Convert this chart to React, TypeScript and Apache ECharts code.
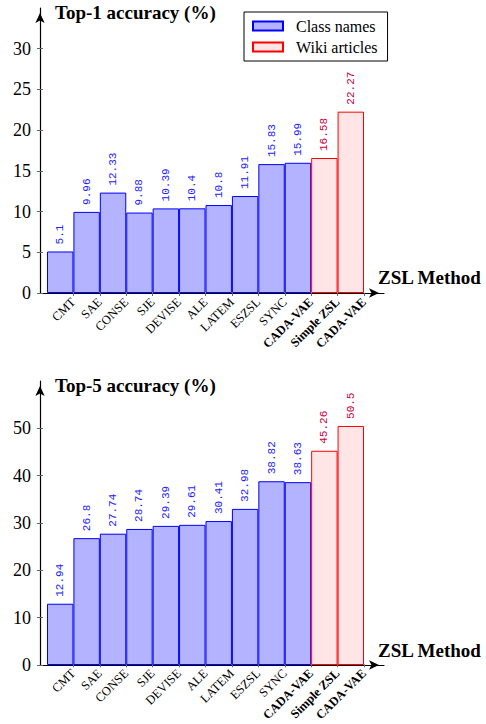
import React, { useEffect, useRef } from "react";
import * as echarts from "echarts";

const categories = ["CMT", "SAE", "CONSE", "SJE", "DEVISE", "ALE", "LATEM", "ESZSL", "SYNC", "CADA-VAE", "Simple ZSL", "CADA-VAE"];
const boldFrom = 9;

const top1Class = [5.1, 9.96, 12.33, 9.88, 10.39, 10.4, 10.8, 11.91, 15.83, 15.99, null, null];
const top1Wiki = [null, null, null, null, null, null, null, null, null, null, 16.58, 22.27];
const top5Class = [12.94, 26.8, 27.74, 28.74, 29.39, 29.61, 30.41, 32.98, 38.82, 38.63, null, null];
const top5Wiki = [null, null, null, null, null, null, null, null, null, null, 45.26, 50.5];

const top1Ticks = [0, 5, 10, 15, 20, 25, 30];
const top5Ticks = [0, 10, 20, 30, 40, 50];
const top1Max = 35;
const top5Max = 60;

const SERIF = "'Liberation Serif', 'Times New Roman', serif";
const MONO = "'Liberation Mono', 'DejaVu Sans Mono', monospace";

function buildPanel(k: number, top: number, height: number, max: number, ticks: number[], classData: any[], wikiData: any[]) {
  const barLeft = 47;
  const barWidth = 317;
  const band = barWidth / categories.length;
  const arrowLine = {
    show: true,
    symbol: ["none", "arrow"],
    symbolSize: [7, 10],
    symbolOffset: [0, -5],
    lineStyle: { color: "#000", width: 1.2 },
  };
  const grids = [
    { left: 40, top, width: 344, height },
    { left: barLeft, top, width: barWidth, height },
    { left: barLeft + band / 2, top, width: barWidth, height },
  ];
  const xAxes = [
    {
      gridIndex: 3 * k, type: "value", min: 0, max: 1,
      axisLine: arrowLine, axisTick: { show: false }, axisLabel: { show: false }, splitLine: { show: false },
    },
    { gridIndex: 3 * k + 1, type: "category", data: categories, show: false },
    {
      gridIndex: 3 * k + 2, type: "category", data: categories,
      axisLine: { show: false },
      axisTick: { show: true, alignWithLabel: true, length: 3, lineStyle: { color: "#666", width: 1 } },
      axisLabel: {
        rotate: 45, margin: 7, interval: 0, color: "#000", fontFamily: SERIF, fontSize: 12.5,
        formatter: (v: string, i: number) => (i >= boldFrom ? `{b|${v}}` : v),
        rich: { b: { fontFamily: SERIF, fontSize: 12.5, fontWeight: "bold", color: "#000" } },
      },
      splitLine: { show: false },
    },
  ];
  const yAxes = [
    {
      gridIndex: 3 * k, type: "value", min: 0, max,
      axisLine: arrowLine,
      axisTick: { show: true, length: 3, customValues: ticks, lineStyle: { color: "#666" } },
      axisLabel: { customValues: ticks, color: "#000", fontFamily: SERIF, fontSize: 18, margin: 9 },
      splitLine: { show: false },
    },
    {
      gridIndex: 3 * k + 1, type: "value", min: 0, max, offset: 7,
      axisLine: { show: false },
      axisTick: { show: true, inside: true, length: 3, customValues: ticks, lineStyle: { color: "#666" } },
      axisLabel: { show: false },
      splitLine: { show: false },
    },
    { gridIndex: 3 * k + 2, type: "value", min: 0, max, show: false },
  ];
  const labelCommon = {
    show: true, position: "top", rotate: 90, align: "left", verticalAlign: "middle",
    distance: 7, fontFamily: MONO, fontSize: 11,
  };
  const series = [
    {
      type: "bar", name: "Class names", xAxisIndex: 3 * k + 1, yAxisIndex: 3 * k + 1,
      data: classData, barWidth: "100%", barGap: "-100%",
      itemStyle: { color: "#b3b3ff", borderColor: "#0000ff", borderWidth: 1 },
      label: { ...labelCommon, color: "#2222ff" },
    },
    {
      type: "bar", name: "Wiki articles", xAxisIndex: 3 * k + 1, yAxisIndex: 3 * k + 1,
      data: wikiData, barWidth: "100%", barGap: "-100%",
      itemStyle: { color: "#ffe5e5", borderColor: "#ff0000", borderWidth: 1 },
      label: { ...labelCommon, color: "#c8003c" },
    },
  ];
  return { grids, xAxes, yAxes, series };
}

export default function App() {
  const ref = useRef<HTMLDivElement>(null);
  useEffect(() => {
    document.body.style.margin = "0";
    if (!ref.current) return;
    const chart = echarts.init(ref.current, null, { renderer: "svg" });
    const p1 = buildPanel(0, 8, 285, top1Max, top1Ticks, top1Class, top1Wiki);
    const p2 = buildPanel(1, 381, 284, top5Max, top5Ticks, top5Class, top5Wiki);
    const titleStyle = { fontFamily: SERIF, fontSize: 19, fontWeight: "bold", color: "#000" };
    chart.setOption({
      animation: false,
      backgroundColor: "#fff",
      title: [
        { text: "Top-1 accuracy (%)", left: 55, top: 3, padding: 0, textStyle: titleStyle },
        { text: "ZSL Method", left: 378, top: 268, padding: 0, textStyle: titleStyle },
        { text: "Top-5 accuracy (%)", left: 55, top: 376, padding: 0, textStyle: titleStyle },
        { text: "ZSL Method", left: 378, top: 641, padding: 0, textStyle: titleStyle },
      ],
      legend: {
        orient: "vertical", left: 244, top: 12, icon: "rect",
        itemWidth: 30, itemHeight: 9, itemGap: 3,
        borderColor: "#000", borderWidth: 1, padding: [5, 10, 5, 8],
        textStyle: { fontFamily: SERIF, fontSize: 16, color: "#000", lineHeight: 18, padding: [0, 0, 0, 8] },
        data: ["Class names", "Wiki articles"],
      },
      grid: [...p1.grids, ...p2.grids],
      xAxis: [...p1.xAxes, ...p2.xAxes],
      yAxis: [...p1.yAxes, ...p2.yAxes],
      series: [...p1.series, ...p2.series],
    });
    return () => chart.dispose();
  }, []);
  return <div ref={ref} style={{ width: 486, height: 724 }} />;
}
